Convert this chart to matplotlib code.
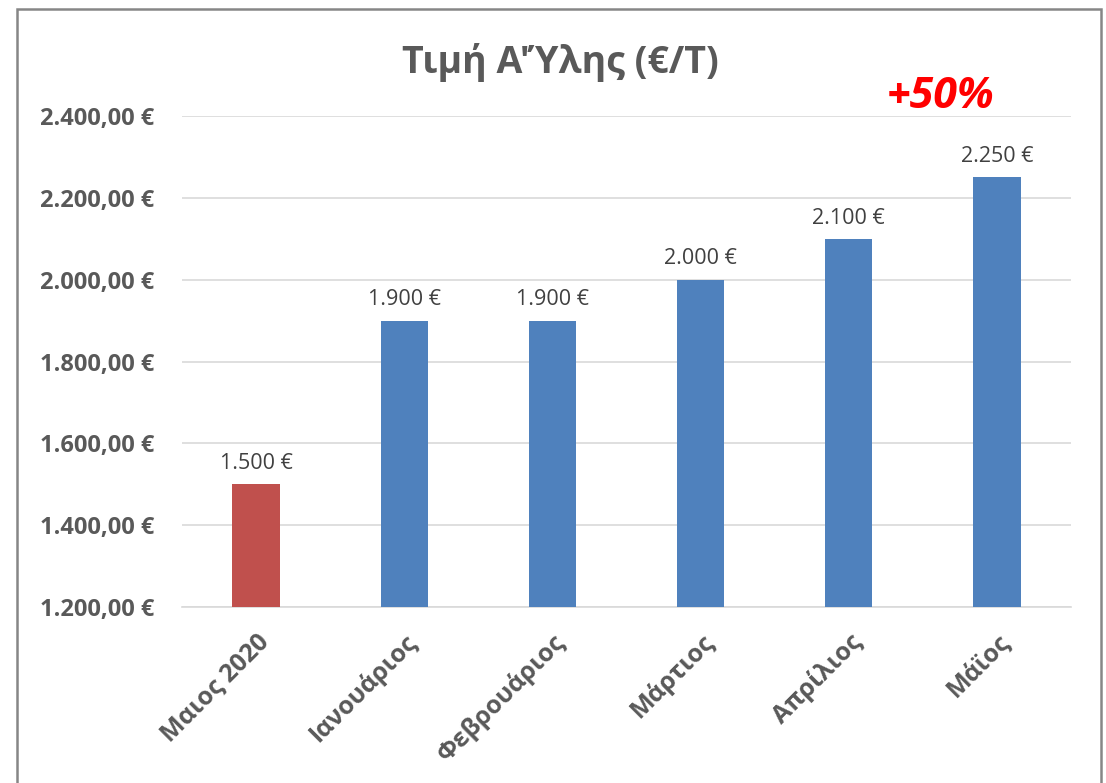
import matplotlib
matplotlib.use("Agg")
import matplotlib.pyplot as plt
from matplotlib.patches import Rectangle

# chart data
months = ["Μαιος 2020", "Ιανουάριος", "Φεβρουάριος", "Μάρτιος", "Απρίλιος", "Μάϊος"]
prices = [1500, 1900, 1900, 2000, 2100, 2250]
bar_colors = ["#C0504D", "#4F81BD", "#4F81BD", "#4F81BD", "#4F81BD", "#4F81BD"]
yticks = [1200, 1400, 1600, 1800, 2000, 2200, 2400]

plt.rcParams['font.family'] = ['Open Sans', 'DejaVu Sans']
grey = "#595959"


def euro_axis(v):
    # 2400 -> "2.400,00 €"
    return "{:,.2f} €".format(v).replace(",", "X").replace(".", ",").replace("X", ".")


def euro_label(v):
    return "{:,.0f} €".format(v).replace(",", ".")


fig = plt.figure(figsize=(11.06, 7.83), dpi=100)
ax = fig.add_axes([182 / 1106, 1 - 607 / 783, (1071 - 182) / 1106, (607 - 116) / 783])

x = list(range(len(months)))
bars = ax.bar(x, prices, width=0.32, color=bar_colors, zorder=3)

for xi, p in zip(x, prices):
    ax.text(xi, p + 25, euro_label(p), ha="center", va="bottom",
            fontsize=15.5, color="#404040")

ax.set_xlim(-0.5, len(months) - 0.5)
ax.set_ylim(1200, 2400)
ax.set_yticks(yticks)
ax.set_yticklabels([euro_axis(v) for v in yticks], fontsize=17,
                   fontweight="bold", color=grey)
ax.set_xticks(x)
ax.set_xticklabels(months, rotation=45, ha="right", rotation_mode="anchor",
                   fontsize=18, fontweight="bold", color=grey)
ax.tick_params(axis="y", length=0, pad=20)
ax.tick_params(axis="x", length=0, pad=16)

ax.grid(axis="y", color="#D9D9D9", linewidth=1.2, zorder=0)
for side in ["top", "right", "left"]:
    ax.spines[side].set_visible(False)
ax.spines["bottom"].set_color("#D9D9D9")
ax.spines["bottom"].set_linewidth(1.2)

fig.text(560 / 1106, 1 - 62 / 783, "Τιμή Α'Ύλης (€/Τ)", ha="center", va="center",
         fontsize=27, fontweight="bold", color=grey)
fig.text(941 / 1106, 1 - 97 / 783, "+50%", ha="center", va="center",
         fontsize=31, fontweight="bold", style="italic", color="#FF0000")

# outer chart frame
fig.patches.append(Rectangle((17 / 1106, -0.05), (1101 - 17) / 1106, 0.05 + 1 - 9 / 783,
                             transform=fig.transFigure, fill=False,
                             edgecolor="#868686", linewidth=1.8))

fig.savefig("out.png", dpi=100)
